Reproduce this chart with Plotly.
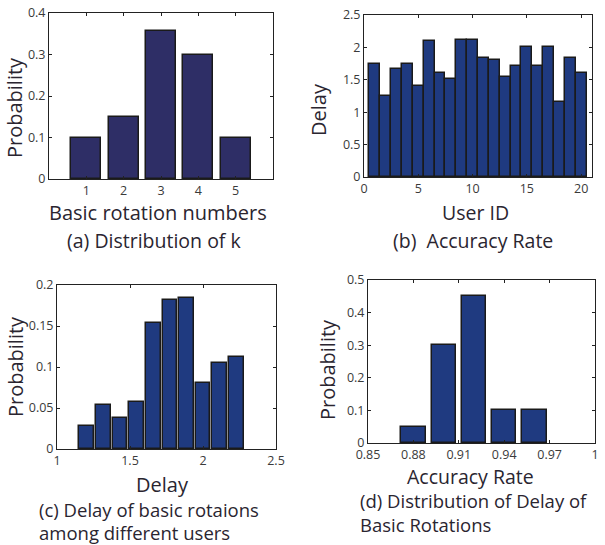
import plotly.graph_objects as go

W, H = 605, 545

# (a) Distribution of k
a_x = [1, 2, 3, 4, 5]
a_y = [0.10, 0.15, 0.356, 0.30, 0.10]

# (b) Delay per user
b_x = list(range(1, 21))
b_y = [1.75, 1.25, 1.66, 1.75, 1.40, 2.10, 1.61, 1.52, 2.12, 2.12,
       1.84, 1.81, 1.55, 1.72, 2.01, 1.72, 2.01, 1.16, 1.84, 1.61]

# (c) Delay histogram
c_x = [1.204, 1.318, 1.432, 1.545, 1.659, 1.773, 1.886, 2.000, 2.114, 2.228]
c_y = [0.028, 0.054, 0.038, 0.057, 0.154, 0.182, 0.184, 0.080, 0.105, 0.112]

# (d) Accuracy rate histogram
d_x = [0.88, 0.90, 0.92, 0.94, 0.96]
d_y = [0.05, 0.30, 0.45, 0.10, 0.10]

FONT = "Open Sans"
TXT = "#2a2530"
TICK = "#3a3a3a"

def dom(x0, x1, y0, y1):
    return [x0 / W, x1 / W], [1 - y1 / H, 1 - y0 / H]

def fmt(v):
    return str(int(v)) if float(v).is_integer() else str(v)

fig = go.Figure()

panels = [
    (a_x, a_y, "#2e2e66", 0.8, 1.5, (49, 273, 13, 179), [0, 6], [0, 0.4],
     [1, 2, 3, 4, 5], [0, 0.1, 0.2, 0.3, 0.4]),
    (b_x, b_y, "#1f3a80", 1.0, 1.5, (364, 592, 15, 177), [0, 21], [0, 2.5],
     [0, 5, 10, 15, 20], [0, 0.5, 1, 1.5, 2, 2.5]),
    (c_x, c_y, "#1f3a80", 0.1, 1.5, (57, 276, 285, 449), [1, 2.5], [0, 0.2],
     [1, 1.5, 2, 2.5], [0, 0.05, 0.1, 0.15, 0.2]),
    (d_x, d_y, "#1f3a80", 0.016, 1.5, (368, 595, 280, 443), [0.85, 1.0], [0, 0.5],
     [0.85, 0.88, 0.91, 0.94, 0.97, 1], [0, 0.1, 0.2, 0.3, 0.4, 0.5]),
]

layout = {}
for i, (xs, ys, col, wd, lw, box, xr, yr, xt, yt) in enumerate(panels, start=1):
    sfx = "" if i == 1 else str(i)
    fig.add_trace(go.Bar(x=xs, y=ys, width=wd,
                         marker=dict(color=col, line=dict(color="#1a1a1a", width=lw)),
                         xaxis="x" + sfx, yaxis="y" + sfx, showlegend=False))
    xd, yd = dom(*box)
    common = dict(showline=True, linecolor="#222", linewidth=1, mirror="ticks", ticks="inside",
                  ticklen=3, tickcolor="#222", showgrid=False, zeroline=False, automargin=False,
                  tickfont=dict(family=FONT, size=12.5, color=TICK))
    layout["xaxis" + sfx] = dict(domain=xd, range=xr, tickvals=xt, ticktext=[fmt(v) for v in xt],
                                 anchor="y" + sfx, **common)
    layout["yaxis" + sfx] = dict(domain=yd, range=yr, tickvals=yt, ticktext=[fmt(v) for v in yt],
                                 anchor="x" + sfx, **common)

fig.update_layout(**layout)

def ann(text, x, y, size=20, angle=0, xanchor="center"):
    fig.add_annotation(text=text, x=x / W, y=1 - y / H, xref="paper", yref="paper",
                       showarrow=False, textangle=angle, xanchor=xanchor, yanchor="middle",
                       align="left", borderpad=0, font=dict(family=FONT, size=size, color=TXT))

# axis titles
ann("Probability", 14, 108, 20, -90)
ann("Basic rotation numbers", 158, 212, 20)
ann("Delay", 318, 110, 20, -90)
ann("User ID", 475, 212, 19.5)
ann("Probability", 15, 367, 20, -90)
ann("Delay", 162, 484, 20)
ann("Probability", 327, 370, 20, -90)
ann("Accuracy Rate", 470, 476, 19.5)

# captions
ann("(a) Distribution of k", 154, 241, 19.5)
ann("(b)  Accuracy Rate", 473, 241, 19.5)
ann("(c) Delay of basic rotaions", 38, 509, 18.5, xanchor="left")
ann("among different users", 38, 532, 18.5, xanchor="left")
ann("(d) Distribution of Delay of", 359, 500, 18.5, xanchor="left")
ann("Basic Rotations", 359, 524, 18.5, xanchor="left")

fig.update_layout(width=W, height=H, margin=dict(l=0, r=0, t=0, b=0),
                  paper_bgcolor="white", plot_bgcolor="white", bargap=0)

fig.write_html("out.html", config={"displayModeBar": False},
               post_script="document.body.style.margin='0';document.body.style.overflow='hidden';")
